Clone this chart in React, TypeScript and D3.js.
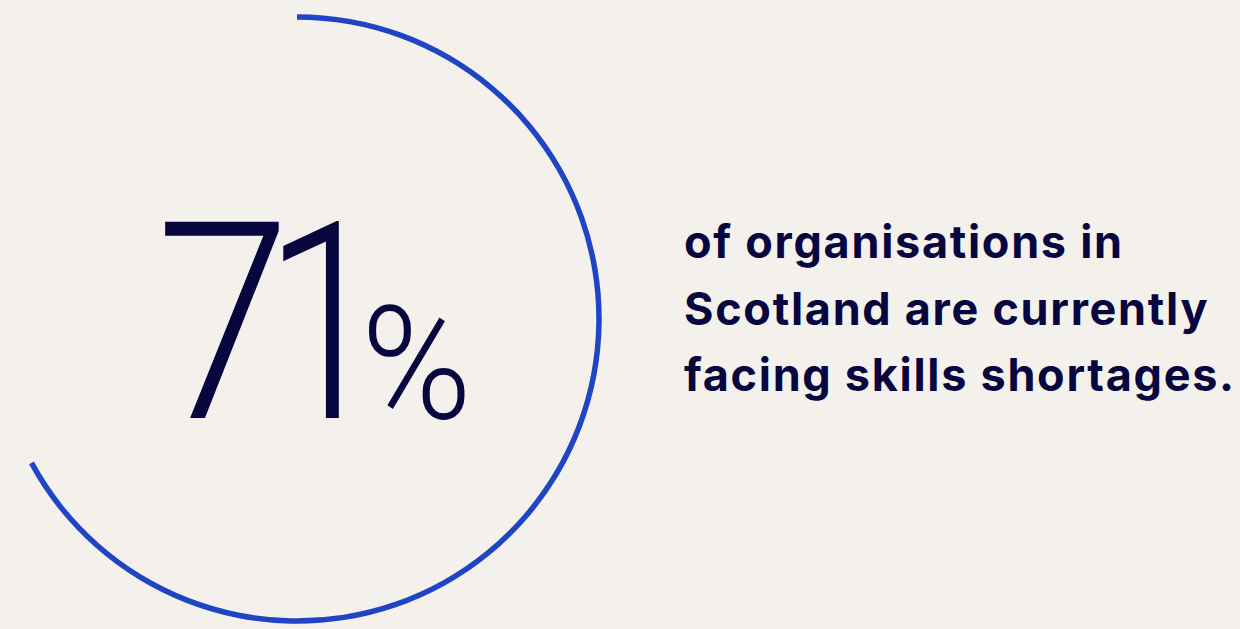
import { useRef, useEffect } from "react";
import * as d3 from "d3";

// headline figure and the sentence that goes with it
const shareValue = [71];
const shareLabel = ["%"];
const captionLines = [
  "of organisations in",
  "Scotland are currently",
  "facing skills shortages.",
];

const WIDTH = 1240;
const HEIGHT = 629;
const BG = "#F4F1EC";
const NAVY = "#07063F";
const BLUE = "#1F45C4";

export default function App() {
  const svgRef = useRef<SVGSVGElement | null>(null);

  useEffect(() => {
    const svg = d3.select(svgRef.current);
    svg.selectAll("*").remove();

    svg.append("rect").attr("width", WIDTH).attr("height", HEIGHT).attr("fill", BG);

    const cx = 297;
    const cy = 319;
    const radius = 302;

    // gauge sweep: the ring in the picture stops short of a full turn
    const angle = d3.scaleLinear().domain([0, 100]).range([0, Math.PI * 2 * 0.945]);

    const arc = d3.arc<any>()
      .innerRadius(radius - 2.75)
      .outerRadius(radius + 2.75)
      .startAngle(0)
      .endAngle((d: number) => angle(d));

    const g = svg.append("g").attr("transform", `translate(${cx},${cy})`);

    g.selectAll("path.ring")
      .data(shareValue)
      .join("path")
      .attr("class", "ring")
      .attr("fill", BLUE)
      .attr("d", (d) => arc(d));

    // big figure: glyphs placed one by one, narrowed a little to match the
    // geometric face of the original
    const digits = String(shareValue[0]).split("");
    const glyphs = [
      { x: 156, sx: 0.88 },
      { x: 264, sx: 0.8 },
    ];
    const baseline = 418;

    svg.append("g")
      .selectAll("text")
      .data(digits)
      .join("text")
      .attr("transform", (_, i) => `translate(${glyphs[i].x},${baseline}) scale(${glyphs[i].sx},1)`)
      .attr("fill", NAVY)
      .attr("font-size", 276)
      .attr("font-weight", 300)
      .style("font-family", "Roboto, Inter, sans-serif")
      .text((d) => d);

    svg.append("text")
      .attr("transform", `translate(361,${baseline}) scale(0.95,1)`)
      .attr("fill", NAVY)
      .attr("font-size", 158)
      .attr("font-weight", 300)
      .style("font-family", "Roboto, Inter, sans-serif")
      .text(shareLabel[0]);

    svg.append("g")
      .selectAll("text")
      .data(captionLines)
      .join("text")
      .attr("x", 684)
      .attr("y", (_, i) => 258 + i * 66.5)
      .attr("fill", NAVY)
      .attr("font-size", 45)
      .attr("font-weight", 700)
      .attr("letter-spacing", 1.7)
      .style("font-family", "Inter, 'Noto Sans', sans-serif")
      .text((d) => d);
  }, []);

  return (
    <svg
      ref={svgRef}
      width={WIDTH}
      height={HEIGHT}
      style={{ position: "absolute", left: 0, top: 0, display: "block" }}
    />
  );
}
